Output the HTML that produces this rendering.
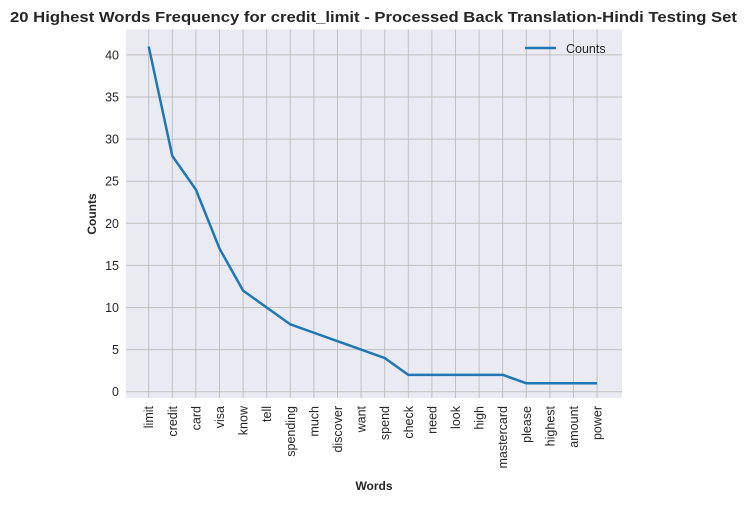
<!DOCTYPE html>
<html><head><meta charset="utf-8"><style>
body{margin:0;background:#fff;}
svg text{font-family:"Liberation Sans",Arial,sans-serif;fill:#262626;}
</style></head><body>
<svg width="747" height="503">
<text x="10" y="22" font-size="14.5" font-weight="bold" textLength="727" lengthAdjust="spacingAndGlyphs">20 Highest Words Frequency for credit_limit - Processed Back Translation-Hindi Testing Set</text>
<rect x="126" y="29.5" width="496" height="368.5" fill="#eaeaf2"/>
<g id="grid"></g><g id="ticks"></g>
<path id="line" fill="none" stroke="#1f77b4" stroke-width="2.5" stroke-linejoin="round"/>
<g>
<line x1="525" y1="48" x2="556" y2="48" stroke="#1f77b4" stroke-width="2.5"/>
<text x="566" y="53" font-size="12.5">Counts</text>
</g>
<text x="96" y="214" font-size="12" font-weight="bold" text-anchor="middle" transform="rotate(-90 96 214)">Counts</text>
<text x="374" y="490" font-size="12" font-weight="bold" text-anchor="middle">Words</text>
</svg>
<script>
const words=["limit","credit","card","visa","know","tell","spending","much","discover","want","spend","check","need","look","high","mastercard","please","highest","amount","power"];
const counts=[41,28,24,17,12,10,8,7,6,5,4,2,2,2,2,2,1,1,1,1];
const yTicks=[0,5,10,15,20,25,30,35,40];
const ns="http://www.w3.org/2000/svg";
const xS=i=>148.7+i*23.6;
const yS=v=>391.7-v*8.42;
const grid=document.getElementById('grid'),ticks=document.getElementById('ticks');
function mk(tag,attrs,parent){const e=document.createElementNS(ns,tag);for(const k in attrs)e.setAttribute(k,attrs[k]);parent.appendChild(e);return e;}
words.forEach((w,i)=>{
 const l=mk('line',{x1:xS(i),x2:xS(i),y1:29.5,y2:398,stroke:'#c0c0c0','stroke-width':1},grid);
 
 
 const t=mk('text',{x:0,y:0,'font-size':12.5,'text-anchor':'end',transform:`translate(${xS(i)+4.5},406) rotate(-90)`},ticks);
 t.textContent=w;
 
 
});
yTicks.forEach(v=>{
 const l=mk('line',{x1:126,x2:622,y1:yS(v),y2:yS(v),stroke:'#c0c0c0','stroke-width':1},grid);
 
 
 const t=mk('text',{x:119,y:yS(v)+4.5,'font-size':12.5,'text-anchor':'end'},ticks);
 t.textContent=v;
 
 
});
document.getElementById('line').setAttribute('d',counts.map((c,i)=>(i?'L':'M')+xS(i)+','+yS(c)).join(''));
</script>
</body></html>
